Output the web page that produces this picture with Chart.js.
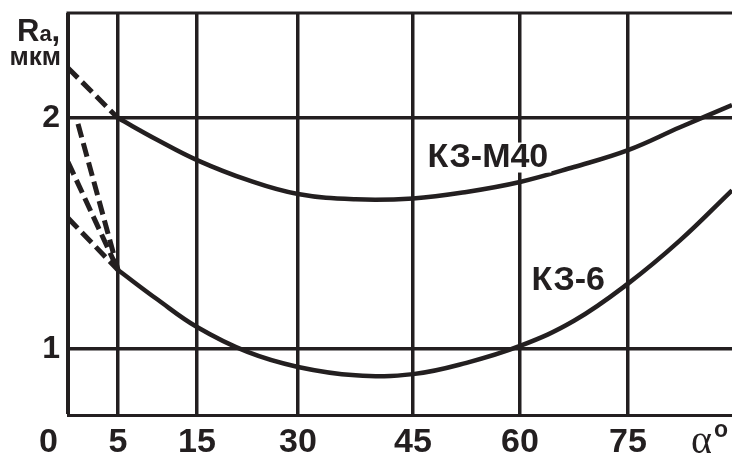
<!DOCTYPE html>
<html>
<head>
<meta charset="utf-8">
<title>Ra vs angle</title>
<script src="https://cdn.jsdelivr.net/npm/chart.js@4/dist/chart.umd.min.js"></script>
<style>
  html, body { margin: 0; padding: 0; background: #fff; }
</style>
</head>
<body>
<canvas id="myChart" width="732" height="459"></canvas>
<script>
// Angles (degrees) where the solid curves were read
const angles = [5, 10, 15, 22.5, 30, 37.5, 45, 52.5, 60, 67.5, 75, 82.5, 90];

// Ra, mkm for each wheel
const raM40 = [2.00, 1.905, 1.818, 1.732, 1.671, 1.648, 1.652, 1.68, 1.723, 1.788, 1.861, 1.96, 2.056];
const ra6 = [1.342, 1.214, 1.095, 0.987, 0.922, 0.886, 0.891, 0.94, 1.013, 1.122, 1.283, 1.47, 1.687];

// Dashed pieces between 0 and 5 degrees
const dashM40X = [0, 5];
const dashM40Y = [2.217, 2.00];
const dash6aX = [1, 5];
const dash6aY = [1.975, 1.342];
const dash6bX = [0, 5];
const dash6bY = [1.81, 1.342];
const dash6cX = [0, 5];
const dash6cY = [1.567, 1.342];

// Tick labels and curve names
const xTicks = [0, 5, 15, 30, 45, 60, 75];
const yTicks = [1, 2];
const curveNames = ['КЗ-М40', 'КЗ-6'];

const ink = '#231f20';
const sans = '"Liberation Sans", Arial, sans-serif';

// The angle axis of the original is drawn unevenly, so the x scale maps
// angle -> fraction of the width piece by piece
const xStops = [[0, 0], [5, 0.0753], [15, 0.1943], [30, 0.3464], [45, 0.5196],
  [60, 0.6807], [75, 0.8434], [90, 1]];

class WarpScale extends Chart.LinearScale {
  toDecimal(v) {
    if (v <= xStops[0][0]) return xStops[0][1];
    for (let i = 1; i < xStops.length; i++) {
      if (v <= xStops[i][0]) {
        const t = (v - xStops[i - 1][0]) / (xStops[i][0] - xStops[i - 1][0]);
        return xStops[i - 1][1] + t * (xStops[i][1] - xStops[i - 1][1]);
      }
    }
    return xStops[xStops.length - 1][1];
  }
  getPixelForValue(value) {
    return value === null ? NaN : this.getPixelForDecimal(this.toDecimal(value));
  }
  getValueForPixel(pixel) {
    const d = this.getDecimalForPixel(pixel);
    for (let i = 1; i < xStops.length; i++) {
      if (d <= xStops[i][1]) {
        const t = (d - xStops[i - 1][1]) / (xStops[i][1] - xStops[i - 1][1]);
        return xStops[i - 1][0] + t * (xStops[i][0] - xStops[i - 1][0]);
      }
    }
    return xStops[xStops.length - 1][0];
  }
}
WarpScale.id = 'warp';
Chart.register(WarpScale);

function pts(xs, ys) {
  return xs.map((x, i) => ({ x: x, y: ys[i] }));
}

function solid(data) {
  return { data: data, borderColor: ink, borderWidth: 4.5, pointRadius: 0, tension: 0.4, fill: false };
}

function dashed(data) {
  return { data: data, borderColor: ink, borderWidth: 5, borderDash: [14, 6], pointRadius: 0, tension: 0, fill: false };
}

// Curve names, axis titles, the "0" and the top frame line
const decor = {
  id: 'decor',
  afterDatasetsDraw(chart) {
    const { ctx, scales } = chart;
    const nameAt = [[55.5, 1.829], [66.7, 1.297]];
    ctx.save();
    ctx.font = 'bold 34px ' + sans;
    ctx.textAlign = 'center';
    ctx.textBaseline = 'middle';
    curveNames.forEach((name, i) => {
      const x = scales.x.getPixelForValue(nameAt[i][0]);
      const y = scales.y.getPixelForValue(nameAt[i][1]);
      const w = ctx.measureText(name).width;
      ctx.fillStyle = '#fff';
      ctx.fillRect(x - w / 2 - 3, y - 15, w + 6, 30);
      ctx.fillStyle = ink;
      ctx.fillText(name, x, y);
    });
    ctx.restore();
  },
  afterDraw(chart) {
    const { ctx, chartArea, scales } = chart;
    ctx.save();
    ctx.strokeStyle = ink;
    ctx.lineWidth = 3;
    ctx.beginPath();
    ctx.moveTo(chartArea.left - 1.5, chartArea.top);
    ctx.lineTo(chartArea.right, chartArea.top);
    ctx.stroke();

    ctx.fillStyle = ink;
    // "0" sits in the y label column
    ctx.font = 'bold 34px ' + sans;
    ctx.textAlign = 'right';
    ctx.textBaseline = 'middle';
    ctx.fillText('0', chartArea.left - 10, scales.x.top + 28);

    // alpha, degrees
    ctx.textAlign = 'left';
    ctx.textBaseline = 'alphabetic';
    ctx.font = '40px "Liberation Serif", "Times New Roman", serif';
    ctx.fillText('α', chartArea.right - 41, scales.x.top + 38);
    ctx.font = 'bold 23px ' + sans;
    ctx.fillText('o', chartArea.right - 18, scales.x.top + 22);

    // Ra, mkm
    let x = 17;
    const base = chartArea.top + 28;
    ctx.font = 'bold 31px ' + sans;
    ctx.fillText('R', x, base);
    x += ctx.measureText('R').width;
    ctx.font = 'bold 22px ' + sans;
    ctx.fillText('a', x, base);
    x += ctx.measureText('a').width;
    ctx.font = 'bold 31px ' + sans;
    ctx.fillText(',', x, base);
    ctx.textAlign = 'right';
    ctx.font = 'bold 26px ' + sans;
    ctx.fillText('мкм', chartArea.left - 7, chartArea.top + 52);
    ctx.restore();
  }
};

const ctx = document.getElementById('myChart').getContext('2d');

const chart = new Chart(ctx, {
  type: 'line',
  data: {
    datasets: [
      solid(pts(angles, raM40)),
      solid(pts(angles, ra6)),
      dashed(pts(dashM40X, dashM40Y)),
      dashed(pts(dash6aX, dash6aY)),
      dashed(pts(dash6bX, dash6bY)),
      dashed(pts(dash6cX, dash6cY))
    ]
  },
  options: {
    responsive: false,
    animation: false,
    layout: { padding: { top: 13, left: 0, right: 0, bottom: 0 } },
    plugins: { legend: { display: false }, tooltip: { enabled: false } },
    scales: {
      x: {
        type: 'warp',
        min: 0,
        max: 90,
        afterBuildTicks: s => { s.ticks = xTicks.map(v => ({ value: v })); },
        afterFit: s => { s.height = 44; s.paddingLeft = 0; s.paddingRight = 0; },
        grid: { color: ink, lineWidth: 3.5, drawTicks: false },
        border: { display: true, color: ink, width: 3 },
        ticks: {
          callback: v => (v === 0 ? '' : v),
          color: ink,
          font: { family: sans, size: 34, weight: 'bold' },
          padding: 7,
          maxRotation: 0,
          autoSkip: false
        }
      },
      y: {
        min: 0.714,
        max: 2.455,
        afterBuildTicks: s => { s.ticks = yTicks.map(v => ({ value: v })); },
        afterFit: s => { s.width = 68; s.paddingTop = 0; s.paddingBottom = 0; },
        grid: { color: ink, lineWidth: 3.5, drawTicks: false },
        border: { display: true, color: ink, width: 3 },
        ticks: {
          color: ink,
          font: { family: sans, size: 32, weight: 'bold' },
          padding: 8
        }
      }
    }
  },
  plugins: [decor]
});
</script>
</body>
</html>
